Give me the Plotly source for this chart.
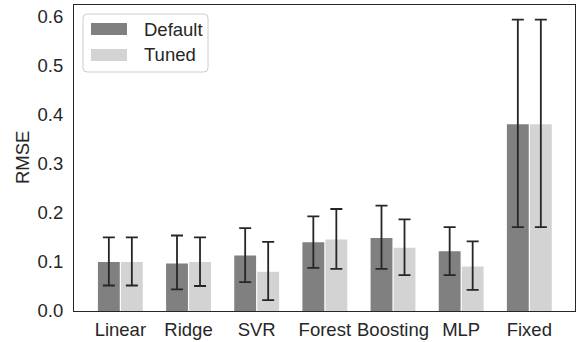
import plotly.graph_objects as go

# Model RMSE, default vs tuned hyper-parameters, with confidence intervals
models = ["Linear", "Ridge", "SVR", "Forest", "Boosting", "MLP", "Fixed"]

default_rmse = [0.100, 0.097, 0.113, 0.140, 0.149, 0.122, 0.381]
default_hi = [0.150, 0.154, 0.169, 0.193, 0.215, 0.171, 0.594]
default_lo = [0.052, 0.044, 0.059, 0.088, 0.086, 0.073, 0.171]

tuned_rmse = [0.100, 0.100, 0.080, 0.146, 0.129, 0.091, 0.381]
tuned_hi = [0.150, 0.150, 0.141, 0.208, 0.187, 0.142, 0.594]
tuned_lo = [0.052, 0.051, 0.022, 0.086, 0.073, 0.043, 0.171]

y_ticks = [0.0, 0.1, 0.2, 0.3, 0.4, 0.5, 0.6]

W, H = 579, 342
ML, MR, MT, MB = 74, 4, 5, 31
FONT = "Liberation Sans, Arial, sans-serif"
FS = 18.5
INK = "#262626"
DARK = "#808080"
LIGHT = "#d3d3d3"


def err(center, hi, lo):
    return dict(
        type="data",
        symmetric=False,
        array=[h - c for h, c in zip(hi, center)],
        arrayminus=[c - l for c, l in zip(center, lo)],
        color=INK,
        thickness=1.8,
        width=6,
    )


fig = go.Figure()
fig.add_trace(go.Bar(x=models, y=default_rmse, name="Default",
                     marker=dict(color=DARK, line=dict(width=0)),
                     error_y=err(default_rmse, default_hi, default_lo)))
fig.add_trace(go.Bar(x=models, y=tuned_rmse, name="Tuned",
                     marker=dict(color=LIGHT, line=dict(width=0)),
                     error_y=err(tuned_rmse, tuned_hi, tuned_lo)))

pw, ph = W - ML - MR, H - MT - MB


def px_x(p):
    return (p - ML) / pw


def px_y(p):
    return (H - MB - p) / ph


# Legend box (rounded) with wide swatches
x0, x1, y0, y1, r = px_x(83), px_x(208), px_y(14), px_y(72), 4
rx, ry = r / pw, r / ph
path = (f"M{x0+rx},{y0} L{x1-rx},{y0} Q{x1},{y0} {x1},{y0-ry} "
        f"L{x1},{y1+ry} Q{x1},{y1} {x1-rx},{y1} L{x0+rx},{y1} "
        f"Q{x0},{y1} {x0},{y1+ry} L{x0},{y0-ry} Q{x0},{y0} {x0+rx},{y0} Z")
shapes = [dict(type="path", path=path, xref="paper", yref="paper",
               line=dict(color="#cccccc", width=1), fillcolor="rgba(255,255,255,0.8)")]
entries = [("Default", DARK, 29), ("Tuned", LIGHT, 55)]
annotations = []
for label, color, cy in entries:
    shapes.append(dict(type="rect", xref="paper", yref="paper",
                       x0=px_x(91), x1=px_x(127), y0=px_y(cy - 6), y1=px_y(cy + 6),
                       fillcolor=color, line=dict(width=0)))
    annotations.append(dict(text=label, xref="paper", yref="paper",
                            x=px_x(142), y=px_y(cy), xanchor="left", yanchor="middle",
                            showarrow=False, font=dict(family=FONT, size=FS, color=INK)))

# Y-axis title
annotations.append(dict(text="RMSE", xref="paper", yref="paper",
                        x=px_x(22), y=px_y(158), xanchor="center", yanchor="middle",
                        textangle=-90, showarrow=False,
                        font=dict(family=FONT, size=FS, color=INK)))

fig.update_layout(
    width=W, height=H,
    margin=dict(l=ML, r=MR, t=MT, b=MB, pad=0, autoexpand=False),
    paper_bgcolor="white", plot_bgcolor="white",
    barmode="group", bargap=0.325, bargroupgap=0.05,
    showlegend=False,
    font=dict(family=FONT, size=FS, color=INK),
    shapes=shapes,
    annotations=annotations,
)
fig.update_xaxes(
    range=[-0.68, 6.67], showgrid=False, ticks="", ticklabelstandoff=2,
    automargin=False,
    showline=True, mirror=True, linecolor=INK, linewidth=1.25,
    tickfont=dict(family=FONT, size=FS, color=INK),
)
fig.update_yaxes(
    range=[0, 0.624], tickvals=y_ticks, tickformat=".1f", showgrid=False,
    zeroline=False, ticks="", ticklabelstandoff=6, automargin=False,
    showline=True, mirror=True, linecolor=INK, linewidth=1.25,
    tickfont=dict(family=FONT, size=FS, color=INK),
)

fig.write_html("out.html")
